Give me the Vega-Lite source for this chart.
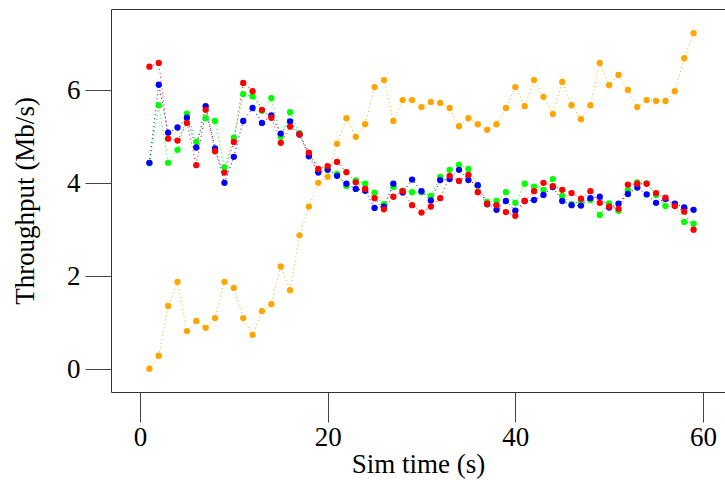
{
  "$schema": "https://vega.github.io/schema/vega-lite/v6.json",
  "width": 614,
  "height": 383,
  "autosize": {"type": "none"},
  "padding": {"left": 111, "top": 9, "right": 0, "bottom": 88},
  "background": "white",
  "config": {"view": {"stroke": null}, "font": "Liberation Serif"},
  "data": {"values": [
    {"s":"g","t":1,"v":4.43},{"s":"g","t":2,"v":5.68},{"s":"g","t":3,"v":4.44},{"s":"g","t":4,"v":4.72},{"s":"g","t":5,"v":5.50},{"s":"g","t":6,"v":4.89},{"s":"g","t":7,"v":5.40},{"s":"g","t":8,"v":5.34},{"s":"g","t":9,"v":4.34},{"s":"g","t":10,"v":4.98},
    {"s":"g","t":11,"v":5.92},{"s":"g","t":12,"v":5.87},{"s":"g","t":13,"v":5.56},{"s":"g","t":14,"v":5.83},{"s":"g","t":15,"v":5.00},{"s":"g","t":16,"v":5.53},{"s":"g","t":17,"v":5.08},{"s":"g","t":18,"v":4.62},{"s":"g","t":19,"v":4.27},{"s":"g","t":20,"v":4.32},
    {"s":"g","t":21,"v":4.20},{"s":"g","t":22,"v":3.94},{"s":"g","t":23,"v":4.06},{"s":"g","t":24,"v":3.99},{"s":"g","t":25,"v":3.80},{"s":"g","t":26,"v":3.55},{"s":"g","t":27,"v":3.92},{"s":"g","t":28,"v":3.84},{"s":"g","t":29,"v":3.81},{"s":"g","t":30,"v":3.81},
    {"s":"g","t":31,"v":3.73},{"s":"g","t":32,"v":4.14},{"s":"g","t":33,"v":4.29},{"s":"g","t":34,"v":4.40},{"s":"g","t":35,"v":4.31},{"s":"g","t":36,"v":3.95},{"s":"g","t":37,"v":3.60},{"s":"g","t":38,"v":3.62},{"s":"g","t":39,"v":3.81},{"s":"g","t":40,"v":3.58},
    {"s":"g","t":41,"v":3.99},{"s":"g","t":42,"v":3.93},{"s":"g","t":43,"v":3.86},{"s":"g","t":44,"v":4.09},{"s":"g","t":45,"v":3.73},{"s":"g","t":46,"v":3.55},{"s":"g","t":47,"v":3.62},{"s":"g","t":48,"v":3.64},{"s":"g","t":49,"v":3.32},{"s":"g","t":50,"v":3.57},
    {"s":"g","t":51,"v":3.41},{"s":"g","t":52,"v":3.85},{"s":"g","t":53,"v":4.02},{"s":"g","t":54,"v":4.00},{"s":"g","t":55,"v":3.75},{"s":"g","t":56,"v":3.51},{"s":"g","t":57,"v":3.52},{"s":"g","t":58,"v":3.17},{"s":"g","t":59,"v":3.13},
    {"s":"b","t":1,"v":4.44},{"s":"b","t":2,"v":6.12},{"s":"b","t":3,"v":5.09},{"s":"b","t":4,"v":5.20},{"s":"b","t":5,"v":5.41},{"s":"b","t":6,"v":4.77},{"s":"b","t":7,"v":5.66},{"s":"b","t":8,"v":4.75},{"s":"b","t":9,"v":4.01},{"s":"b","t":10,"v":4.57},
    {"s":"b","t":11,"v":5.34},{"s":"b","t":12,"v":5.62},{"s":"b","t":13,"v":5.30},{"s":"b","t":14,"v":5.46},{"s":"b","t":15,"v":5.07},{"s":"b","t":16,"v":5.33},{"s":"b","t":17,"v":5.05},{"s":"b","t":18,"v":4.58},{"s":"b","t":19,"v":4.23},{"s":"b","t":20,"v":4.29},
    {"s":"b","t":21,"v":4.16},{"s":"b","t":22,"v":3.99},{"s":"b","t":23,"v":3.88},{"s":"b","t":24,"v":3.84},{"s":"b","t":25,"v":3.47},{"s":"b","t":26,"v":3.50},{"s":"b","t":27,"v":3.99},{"s":"b","t":28,"v":3.80},{"s":"b","t":29,"v":4.08},{"s":"b","t":30,"v":3.83},
    {"s":"b","t":31,"v":3.63},{"s":"b","t":32,"v":4.07},{"s":"b","t":33,"v":4.09},{"s":"b","t":34,"v":4.29},{"s":"b","t":35,"v":4.07},{"s":"b","t":36,"v":3.96},{"s":"b","t":37,"v":3.55},{"s":"b","t":38,"v":3.43},{"s":"b","t":39,"v":3.62},{"s":"b","t":40,"v":3.41},
    {"s":"b","t":41,"v":3.62},{"s":"b","t":42,"v":3.64},{"s":"b","t":43,"v":3.75},{"s":"b","t":44,"v":3.92},{"s":"b","t":45,"v":3.62},{"s":"b","t":46,"v":3.53},{"s":"b","t":47,"v":3.52},{"s":"b","t":48,"v":3.68},{"s":"b","t":49,"v":3.71},{"s":"b","t":50,"v":3.48},
    {"s":"b","t":51,"v":3.56},{"s":"b","t":52,"v":3.77},{"s":"b","t":53,"v":3.91},{"s":"b","t":54,"v":3.76},{"s":"b","t":55,"v":3.58},{"s":"b","t":56,"v":3.66},{"s":"b","t":57,"v":3.56},{"s":"b","t":58,"v":3.48},{"s":"b","t":59,"v":3.43},
    {"s":"r","t":1,"v":6.51},{"s":"r","t":2,"v":6.59},{"s":"r","t":3,"v":4.96},{"s":"r","t":4,"v":4.92},{"s":"r","t":5,"v":5.30},{"s":"r","t":6,"v":4.39},{"s":"r","t":7,"v":5.58},{"s":"r","t":8,"v":4.69},{"s":"r","t":9,"v":4.23},{"s":"r","t":10,"v":4.89},
    {"s":"r","t":11,"v":6.16},{"s":"r","t":12,"v":5.98},{"s":"r","t":13,"v":5.58},{"s":"r","t":14,"v":5.41},{"s":"r","t":15,"v":4.87},{"s":"r","t":16,"v":5.22},{"s":"r","t":17,"v":5.05},{"s":"r","t":18,"v":4.66},{"s":"r","t":19,"v":4.31},{"s":"r","t":20,"v":4.37},
    {"s":"r","t":21,"v":4.46},{"s":"r","t":22,"v":4.24},{"s":"r","t":23,"v":4.02},{"s":"r","t":24,"v":3.88},{"s":"r","t":25,"v":3.68},{"s":"r","t":26,"v":3.44},{"s":"r","t":27,"v":3.71},{"s":"r","t":28,"v":3.83},{"s":"r","t":29,"v":3.53},{"s":"r","t":30,"v":3.37},
    {"s":"r","t":31,"v":3.50},{"s":"r","t":32,"v":3.68},{"s":"r","t":33,"v":4.16},{"s":"r","t":34,"v":4.05},{"s":"r","t":35,"v":4.18},{"s":"r","t":36,"v":3.81},{"s":"r","t":37,"v":3.56},{"s":"r","t":38,"v":3.53},{"s":"r","t":39,"v":3.38},{"s":"r","t":40,"v":3.30},
    {"s":"r","t":41,"v":3.62},{"s":"r","t":42,"v":3.83},{"s":"r","t":43,"v":4.01},{"s":"r","t":44,"v":3.94},{"s":"r","t":45,"v":3.86},{"s":"r","t":46,"v":3.79},{"s":"r","t":47,"v":3.67},{"s":"r","t":48,"v":3.83},{"s":"r","t":49,"v":3.58},{"s":"r","t":50,"v":3.50},
    {"s":"r","t":51,"v":3.45},{"s":"r","t":52,"v":3.97},{"s":"r","t":53,"v":3.99},{"s":"r","t":54,"v":3.99},{"s":"r","t":55,"v":3.79},{"s":"r","t":56,"v":3.69},{"s":"r","t":57,"v":3.51},{"s":"r","t":58,"v":3.39},{"s":"r","t":59,"v":3.00},
    {"s":"o","t":1,"v":0.01},{"s":"o","t":2,"v":0.29},{"s":"o","t":3,"v":1.36},{"s":"o","t":4,"v":1.88},{"s":"o","t":5,"v":0.82},{"s":"o","t":6,"v":1.04},{"s":"o","t":7,"v":0.89},{"s":"o","t":8,"v":1.10},{"s":"o","t":9,"v":1.88},{"s":"o","t":10,"v":1.75},
    {"s":"o","t":11,"v":1.10},{"s":"o","t":12,"v":0.74},{"s":"o","t":13,"v":1.25},{"s":"o","t":14,"v":1.40},{"s":"o","t":15,"v":2.21},{"s":"o","t":16,"v":1.70},{"s":"o","t":17,"v":2.88},{"s":"o","t":18,"v":3.50},{"s":"o","t":19,"v":4.01},{"s":"o","t":20,"v":4.14},
    {"s":"o","t":21,"v":4.85},{"s":"o","t":22,"v":5.40},{"s":"o","t":23,"v":5.00},{"s":"o","t":24,"v":5.27},{"s":"o","t":25,"v":6.07},{"s":"o","t":26,"v":6.22},{"s":"o","t":27,"v":5.34},{"s":"o","t":28,"v":5.79},{"s":"o","t":29,"v":5.79},{"s":"o","t":30,"v":5.64},
    {"s":"o","t":31,"v":5.75},{"s":"o","t":32,"v":5.73},{"s":"o","t":33,"v":5.62},{"s":"o","t":34,"v":5.23},{"s":"o","t":35,"v":5.40},{"s":"o","t":36,"v":5.27},{"s":"o","t":37,"v":5.15},{"s":"o","t":38,"v":5.27},{"s":"o","t":39,"v":5.62},{"s":"o","t":40,"v":6.07},
    {"s":"o","t":41,"v":5.66},{"s":"o","t":42,"v":6.22},{"s":"o","t":43,"v":5.86},{"s":"o","t":44,"v":5.49},{"s":"o","t":45,"v":6.18},{"s":"o","t":46,"v":5.68},{"s":"o","t":47,"v":5.38},{"s":"o","t":48,"v":5.68},{"s":"o","t":49,"v":6.59},{"s":"o","t":50,"v":6.11},
    {"s":"o","t":51,"v":6.33},{"s":"o","t":52,"v":6.01},{"s":"o","t":53,"v":5.64},{"s":"o","t":54,"v":5.79},{"s":"o","t":55,"v":5.77},{"s":"o","t":56,"v":5.77},{"s":"o","t":57,"v":5.98},{"s":"o","t":58,"v":6.69},{"s":"o","t":59,"v":7.23}
  ]},
  "layer": [
    {
      "mark": {"type": "line", "strokeDash": [1, 3], "strokeWidth": 1},
      "encoding": {
        "x": {"field": "t", "type": "quantitative", "scale": {"domain": [-3.09, 62.35], "nice": false, "zero": false},
          "axis": {"orient": "bottom", "values": [0, 20, 40, 60], "grid": false, "domain": true, "domainColor": "#333", "domainWidth": 1,
            "ticks": true, "tickSize": 30, "tickColor": "#444", "tickWidth": 1, "labelFontSize": 27, "labelFont": "Liberation Serif", "labelColor": "#000",
            "labelPadding": 2, "labelFlush": false, "labelOverlap": false, "title": "Sim time (s)", "titleFont": "Liberation Serif", "titleFontSize": 27,
            "titleFontWeight": "normal", "titleColor": "#000", "titlePadding": 1}},
        "y": {"field": "v", "type": "quantitative", "scale": {"domain": [-0.49, 7.75], "nice": false, "zero": false},
          "axis": {"orient": "left", "values": [0, 2, 4, 6], "grid": false, "domain": true, "domainColor": "#333", "domainWidth": 1,
            "ticks": true, "tickSize": 26, "tickColor": "#444", "tickWidth": 1, "labelFontSize": 27, "labelFont": "Liberation Serif", "labelColor": "#000",
            "labelPadding": 5, "labelFlush": false, "labelOverlap": false, "title": "Throughput (Mb/s)", "titleFont": "Liberation Serif", "titleFontSize": 27,
            "titleFontWeight": "normal", "titleColor": "#000", "titlePadding": 27}},
        "color": {"field": "s", "type": "nominal", "scale": {"domain": ["g", "b", "r", "o"], "range": ["#00FF00", "#0000FF", "#FF0000", "#FFA500"]}, "legend": null}
      }
    },
    {
      "mark": {"type": "point", "filled": true, "size": 40, "opacity": 1},
      "encoding": {
        "x": {"field": "t", "type": "quantitative", "scale": {"domain": [-3.09, 62.35], "nice": false, "zero": false},
          "axis": {"orient": "top", "values": [], "grid": false, "domain": true, "domainColor": "#333", "domainWidth": 1, "ticks": false, "labels": false, "title": null}},
        "y": {"field": "v", "type": "quantitative", "scale": {"domain": [-0.49, 7.75], "nice": false, "zero": false}},
        "color": {"field": "s", "type": "nominal", "scale": {"domain": ["g", "b", "r", "o"], "range": ["#00FF00", "#0000FF", "#FF0000", "#FFA500"]}, "legend": null}
      }
    }
  ],
  "resolve": {"axis": {"x": "independent"}}
}
